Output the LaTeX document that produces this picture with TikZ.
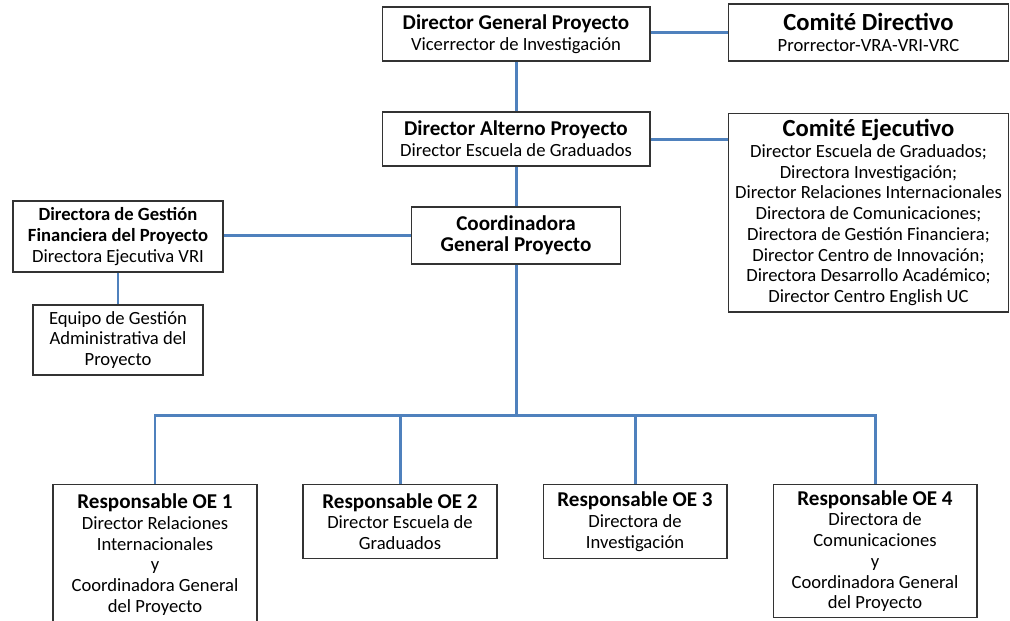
\documentclass[tikz,border=0pt]{standalone}
\usepackage{fontspec}
\setmainfont{Carlito}
\usetikzlibrary{positioning, calc}
\definecolor{linkblue}{RGB}{79,129,189}
\newcommand{\boxhead}[1]{{\fontsize{12}{14}\selectfont\bfseries #1}}
\newcommand{\bighead}[1]{{\fontsize{14}{16.5}\selectfont\bfseries #1}}
\tikzset{
  orgbox/.style={draw=black!80, line width=0.6pt, fill=white, align=center,
    inner sep=1pt, font=\fontsize{10.6}{11.8}\selectfont},
  link/.style={draw=linkblue, line width=1.7pt}
}

\begin{document}
\begin{tikzpicture}[x=0.02cm, y=-0.02cm]
      \useasboundingbox (0,0) rectangle (1010,620);
      \clip (0,0) rectangle (1010,620);

      % Top level
      \node[orgbox, minimum width=5.36cm, minimum height=1.08cm] (dg) at (516,34)
        {\boxhead{Director General Proyecto}\\Vicerrector de Investigación};
      \node[orgbox, minimum width=5.6cm, minimum height=1.14cm] (cd) at (868.5,32.5)
        {\bighead{Comité Directivo}\\Prorrector-VRA-VRI-VRC};

      % Second level
      \node[orgbox, minimum width=5.36cm, minimum height=1.08cm] (da) at (516,139)
        {\boxhead{Director Alterno Proyecto}\\Director Escuela de Graduados};
      \node[orgbox, minimum width=5.6cm, minimum height=3.98cm] (ce) at (868.5,212.5)
        {\bighead{Comité Ejecutivo}\\Director Escuela de Graduados;\\Directora Investigación;\\
         Director Relaciones Internacionales\\Directora de Comunicaciones;\\
         Directora de Gestión Financiera;\\Director Centro de Innovación;\\
         Directora Desarrollo Académico;\\Director Centro English UC};

      % Coordination
      \node[orgbox, minimum width=4.18cm, minimum height=1.14cm] (co) at (516,235.5)
        {\boxhead{Coordinadora}\\\boxhead{General Proyecto}};
      \node[orgbox, minimum width=4.2cm, minimum height=1.42cm] (dgf) at (118,236.5)
        {\textbf{Directora de Gestión}\\\textbf{Financiera del Proyecto}\\Directora Ejecutiva VRI};
      \node[orgbox, minimum width=3.4cm, minimum height=1.4cm] (eq) at (118,340)
        {Equipo de Gestión\\Administrativa del\\Proyecto};

      % Specific objectives
      \node[orgbox, anchor=north, minimum width=4.08cm, minimum height=2.8cm] (oe1) at (155,484)
        {\boxhead{Responsable OE 1}\\Director Relaciones\\Internacionales\\y\\
         Coordinadora General\\del Proyecto};
      \node[orgbox, anchor=north, minimum width=3.88cm, minimum height=1.48cm] (oe2) at (400,484)
        {\boxhead{Responsable OE 2}\\Director Escuela de\\Graduados};
      \node[orgbox, anchor=north, minimum width=3.68cm, minimum height=1.48cm] (oe3) at (635,484)
        {\boxhead{Responsable OE 3}\\Directora de\\Investigación};
      \node[orgbox, anchor=north, minimum width=4.08cm, minimum height=2.66cm] (oe4) at (875,484)
        {\boxhead{Responsable OE 4}\\Directora de\\Comunicaciones\\y\\
         Coordinadora General\\del Proyecto};

      % Connectors
      \coordinate (bus) at (516,415);
      \draw[link] (dg.south) -- (da.north);
      \draw[link] (cd.west) -- (cd.west -| dg.east);
      \draw[link] (da.east) -- (da.east -| ce.west);
      \draw[link] (da.south) -- (co.north);
      \draw[link] (co.west) -- (co.west -| dgf.east);
      \draw[link] (dgf.south) -- (eq.north);
      \draw[link] (co.south) -- (co.south |- bus);
      \draw[link] (oe1.north) |- (bus) -| (oe4.north);
      \draw[link] (oe2.north) -- (oe2.north |- bus);
      \draw[link] (oe3.north) -- (oe3.north |- bus);
    \end{tikzpicture}
\end{document}
